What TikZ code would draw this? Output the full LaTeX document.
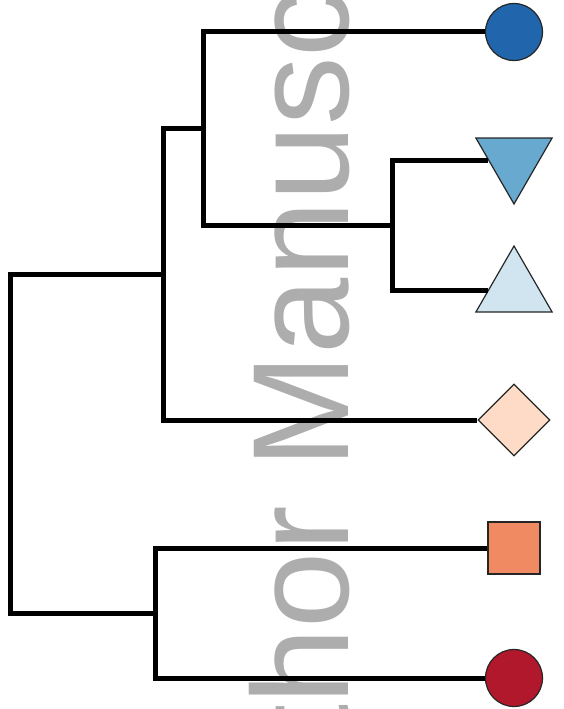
\documentclass[tikz,border=0pt]{standalone}
\usepackage{fontspec}
\newfontfamily\wmfont{Liberation Sans}
\usetikzlibrary{shapes.geometric}
\definecolor{wmgrey}{RGB}{173,173,173}
\definecolor{cA}{RGB}{33,102,172}
\definecolor{cB}{RGB}{103,169,207}
\definecolor{cC}{RGB}{209,229,240}
\definecolor{cD}{RGB}{253,219,199}
\definecolor{cE}{RGB}{239,138,98}
\definecolor{cF}{RGB}{178,24,43}
\begin{document}
\begin{tikzpicture}[x=1pt,y=-1pt,
  branch/.style={line width=5pt, black, line join=miter},
  leaf/.style={draw=black!85, line width=1.2pt, inner sep=0pt},
  tri/.style={leaf, regular polygon, regular polygon sides=3, minimum size=88pt},
  wmark/.style={rotate=90, anchor=base west, inner sep=0pt, text=wmgrey,
    font=\wmfont\fontsize{137}{137}\selectfont}]
\useasboundingbox (0,0) rectangle (564,709);
\clip (0,0) rectangle (564,709);
\node[wmark] (wm) at (348,910) {Author Manuscript};
% leaves
\node[leaf, circle, minimum size=57pt, fill=cA] (L1) at (514,32) {};
\node[tri, shape border rotate=180, fill=cB] (L2) at (514,160) {};
\node[tri, fill=cC] (L3) at (514,290) {};
\node[leaf, diamond, minimum width=72pt, minimum height=72pt, fill=cD] (L4) at (514,420) {};
\node[leaf, rectangle, minimum size=52pt, fill=cE] (L5) at (514,548) {};
\node[leaf, circle, minimum size=57pt, fill=cF] (L6) at (514,678) {};
% internal nodes
\coordinate (A) at (392,225);
\coordinate (B) at (203,128.5);
\coordinate (C) at (163,274);
\coordinate (D) at (155,613);
\coordinate (R) at (10,443.5);
% branches
\draw[branch] (A) |- (L2);
\draw[branch] (A) |- (L3);
\draw[branch] (B) |- (L1);
\draw[branch] (B) |- (A);
\draw[branch] (C) |- (B);
\draw[branch] (C) |- (L4);
\draw[branch] (D) |- (L5);
\draw[branch] (D) |- (L6);
\draw[branch] (R) |- (C);
\draw[branch] (R) |- (D);
\end{tikzpicture}
\end{document}
